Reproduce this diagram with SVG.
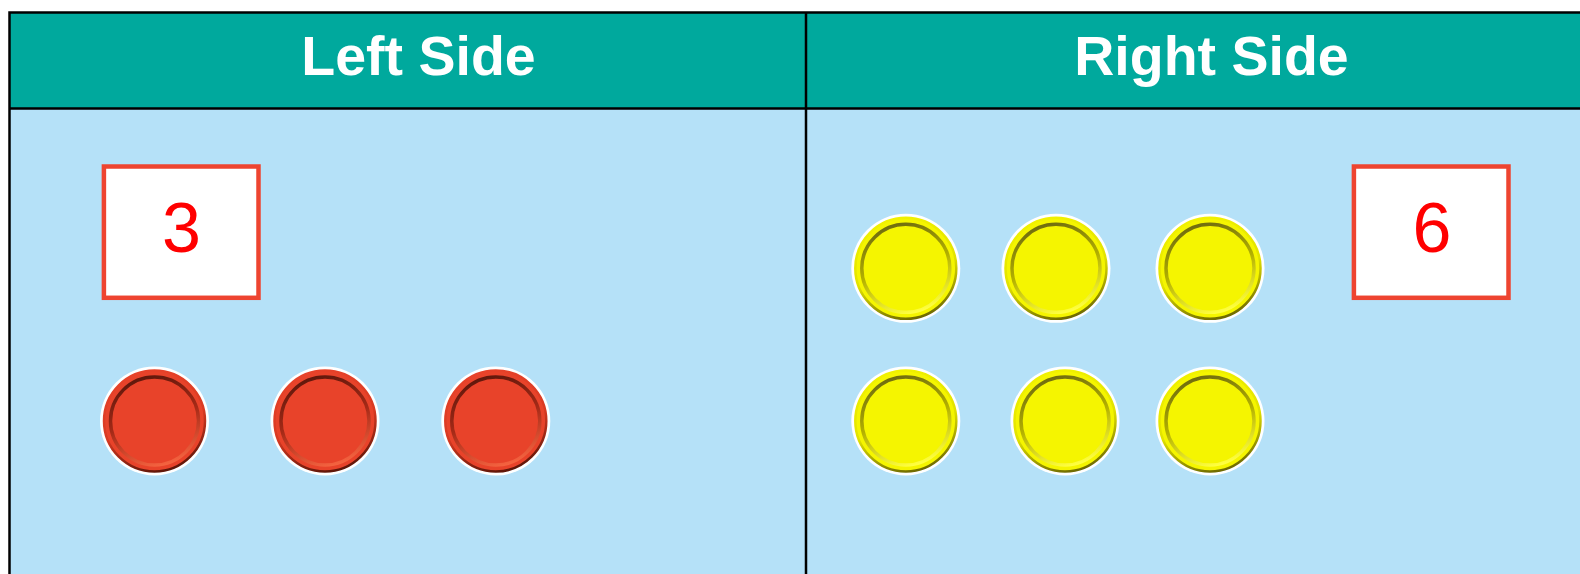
<svg xmlns="http://www.w3.org/2000/svg" xmlns:xlink="http://www.w3.org/1999/xlink" width="1580" height="574" viewBox="0 0 1580 574">
<style>
.hdr{font-family:"Liberation Sans",Arial,sans-serif;font-weight:bold;font-size:55.5px;fill:#ffffff;text-anchor:middle}
.num{font-family:"Liberation Sans",Arial,sans-serif;font-size:70px;fill:#ff0000;text-anchor:middle}
.box{fill:#ffffff;stroke:#EE4430;stroke-width:4.5}
.line{stroke:#000000;stroke-width:2.5;fill:none}
</style>
<defs>
<linearGradient id="edgeR" x1="0.3" y1="0" x2="0.6" y2="1">
<stop offset="0" stop-color="#E8432A"/><stop offset="0.55" stop-color="#D83A22"/><stop offset="1" stop-color="#5e1508"/>
</linearGradient>
<linearGradient id="ringR" x1="0.3" y1="0" x2="0.6" y2="1">
<stop offset="0" stop-color="#5e170b"/><stop offset="0.5" stop-color="#a62a17"/><stop offset="1" stop-color="#F4623F"/>
</linearGradient>
<linearGradient id="edgeY" x1="0.3" y1="0" x2="0.6" y2="1">
<stop offset="0" stop-color="#F2F200"/><stop offset="0.55" stop-color="#E2E200"/><stop offset="1" stop-color="#6f6a00"/>
</linearGradient>
<linearGradient id="ringY" x1="0.3" y1="0" x2="0.6" y2="1">
<stop offset="0" stop-color="#6e6a10"/><stop offset="0.5" stop-color="#b3b000"/><stop offset="1" stop-color="#FFFF40"/>
</linearGradient>
<g id="redChip">
<circle r="54.5" fill="#ffffff"/>
<circle r="50.5" fill="#E8432A" stroke="url(#edgeR)" stroke-width="2.5"/>
<circle r="44" fill="#E8432A" stroke="url(#ringR)" stroke-width="3.5"/>
</g>
<g id="yellowChip">
<circle r="54.5" fill="#ffffff"/>
<circle r="50.5" fill="#F5F500" stroke="url(#edgeY)" stroke-width="2.5"/>
<circle r="44" fill="#F5F500" stroke="url(#ringY)" stroke-width="3.5"/>
</g>
</defs>
<rect x="0" y="0" width="1580" height="574" fill="#ffffff"/>
<g id="table">
<rect x="9.5" y="12.5" width="1580" height="96" fill="#00A99D"/>
<rect x="9.5" y="108.5" width="1580" height="480" fill="#B5E1F8"/>
<path class="line" d="M9.5 590 V12.5 H1590 M9.5 108.5 H1590 M806 12.5 V590"/>
</g>
<g id="header-left"><text class="hdr" x="418.5" y="75">Left Side</text></g>
<g id="header-right"><text class="hdr" x="1211.5" y="75">Right Side</text></g>
<g id="box-3">
<rect class="box" x="103.9" y="166.5" width="154.6" height="131.3"/>
<text class="num" x="181.5" y="251.5">3</text>
</g>
<g id="box-6">
<rect class="box" x="1353.9" y="166.5" width="154.6" height="131.3"/>
<text class="num" x="1432" y="251.5">6</text>
</g>
<g id="red-counters">
<use xlink:href="#redChip" x="154.5" y="421"/>
<use xlink:href="#redChip" x="325" y="421"/>
<use xlink:href="#redChip" x="495.8" y="421"/>
</g>
<g id="yellow-counters">
<use xlink:href="#yellowChip" x="905.8" y="268.3"/>
<use xlink:href="#yellowChip" x="1056" y="268.3"/>
<use xlink:href="#yellowChip" x="1210" y="268.3"/>
<use xlink:href="#yellowChip" x="905.8" y="421"/>
<use xlink:href="#yellowChip" x="1065" y="421"/>
<use xlink:href="#yellowChip" x="1210" y="421"/>
</g>
<g id="connectors"></g>
</svg>
